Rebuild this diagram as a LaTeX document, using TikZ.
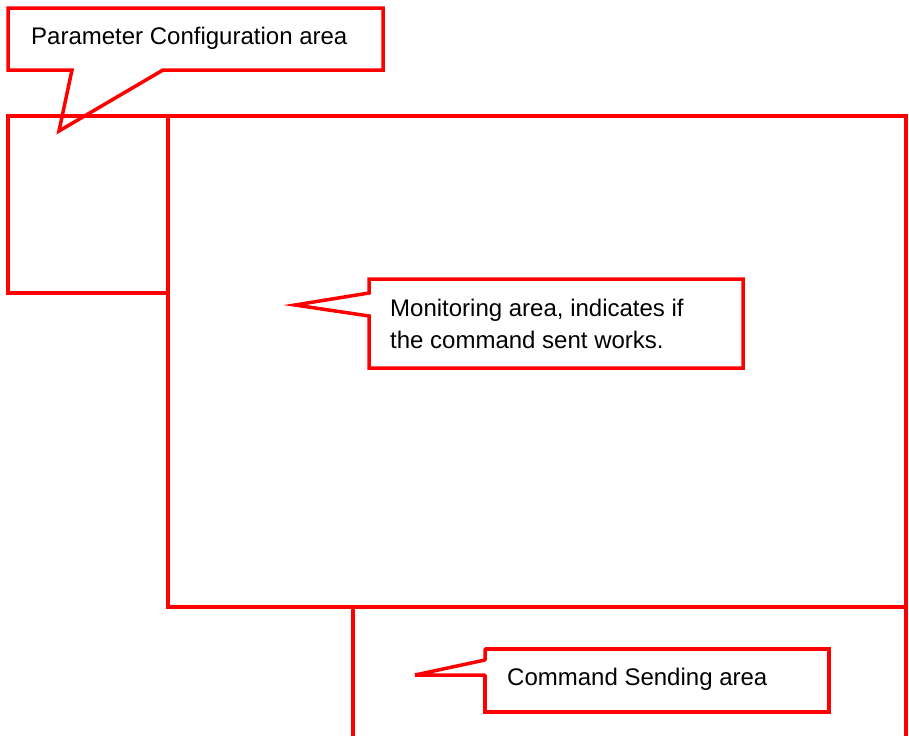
\documentclass[tikz,border=0pt]{standalone}
\usepackage{fontspec}
\setmainfont{Liberation Sans}
\begin{document}
\begin{tikzpicture}[x=1pt,y=-1pt,
  redline/.style={draw=red, line width=3.5pt, line join=miter},
  lbl/.style={anchor=west, inner sep=0pt, font=\fontsize{24}{32}\selectfont, align=left, text=black}]
\useasboundingbox (0,0) rectangle (909,736);
\fill[white] (0,0) rectangle (909,736);
% panels
\draw[redline] (8,116) rectangle (168,293);
\draw[redline] (168,116) rectangle (906,607);
\draw[redline] (353,736) -- (353,607);
\draw[redline] (906,607) -- (906,736);
% callout 1
\draw[redline] (8,8) -- (383,8) -- (383,70) -- (163,70) -- (59,131) -- (72,70) -- (8,70) -- cycle;
\node[lbl] (param) at (31,38) {Parameter Configuration area};
% callout 2
\draw[redline] (369,279) -- (743,279) -- (743,368) -- (369,368) -- (369,316) -- (295,305) -- (369,293) -- cycle;
\node[lbl] (mon) at (390,324) {Monitoring area, indicates if\\the command sent works.};
% callout 3
\draw[redline, line join=bevel] (485,649) -- (829,649) -- (829,712) -- (485,712) -- (485,675) -- (415,675) -- (485,660) -- cycle;
\draw[redline] (485,649) -- (829,649) -- (829,712) -- (485,712) -- (485,675);
\node[lbl] (cmd) at (507,679) {Command Sending area};
\end{tikzpicture}
\end{document}
